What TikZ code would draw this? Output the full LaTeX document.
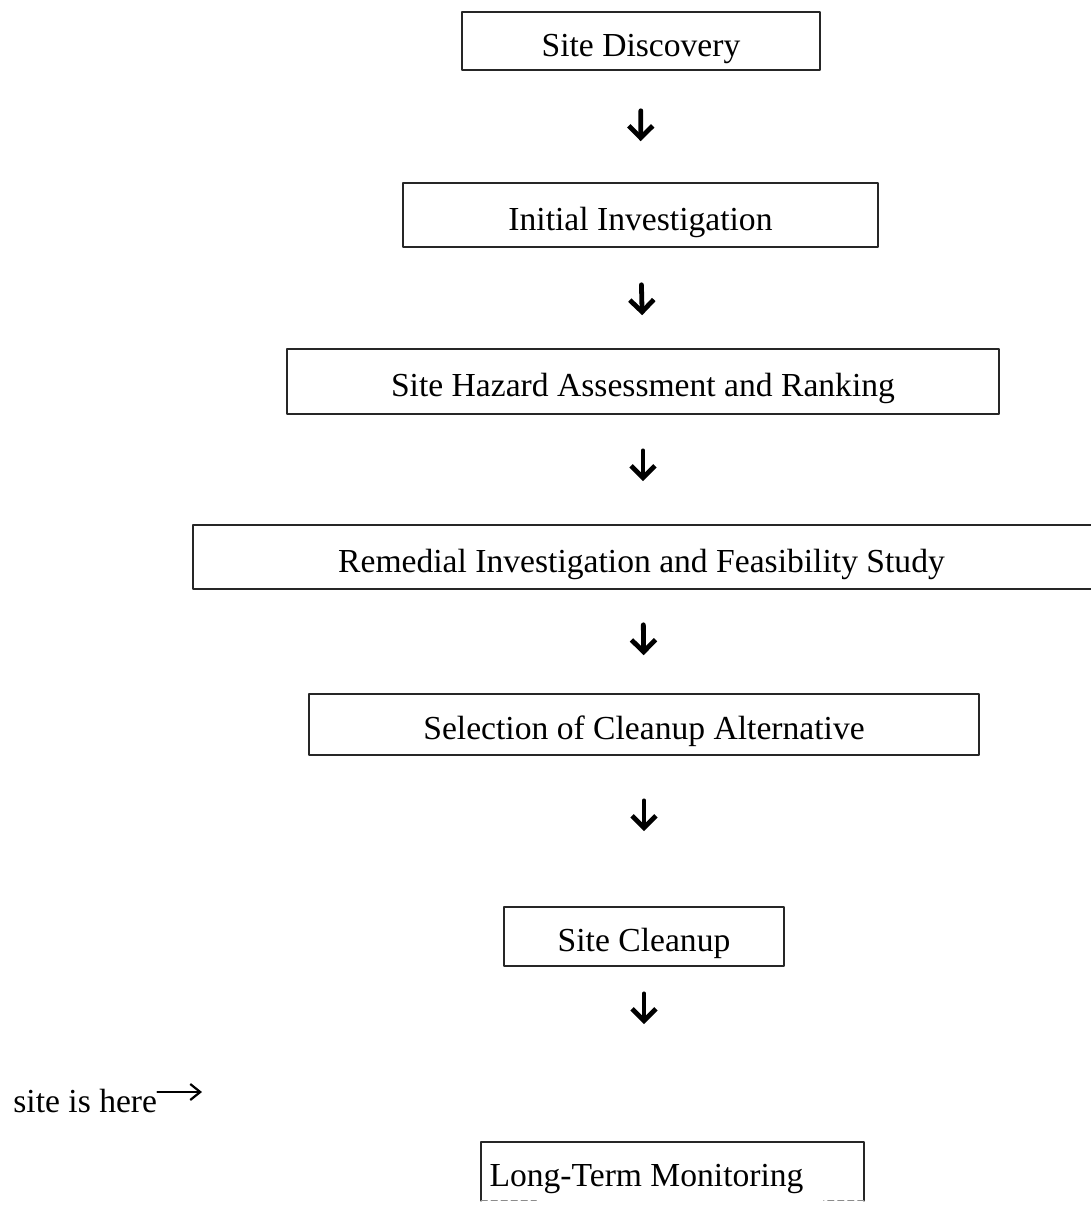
\documentclass[tikz,border=0pt]{standalone}
\usepackage{fontspec}
\setmainfont{Liberation Serif}
\usetikzlibrary{arrows.meta}
\tikzset{
    every picture/.style={line cap=round,line join=round},
    stagebox/.style={draw=black!85,line width=0.8pt,inner sep=0pt,
      text height=15pt,text depth=0pt,
      font=\fontsize{16.8}{20}\selectfont,align=center},
    openbox/.style={stagebox,draw=none},
    stagearrow/.style={-{Straight Barb[length=6pt,width=12pt]},draw=black,
      line width=2.4pt},
    notearrow/.style={-{Straight Barb[length=5pt,width=8pt]},draw=black,
      line width=1.1pt}
}
\begin{document}
\begin{tikzpicture}[x=0.5pt,y=-0.5pt]
  \useasboundingbox (0,0) rectangle (1091,1205);
  \clip (0,0) rectangle (1091,1205);
  % stages, top to bottom
  \node[stagebox,minimum width=179pt,minimum height=29pt] (discovery) at (641,41) {Site Discovery};
  \node[stagebox,minimum width=237.5pt,minimum height=32pt] (initial) at (640.5,215) {Initial Investigation};
  \node[stagebox,minimum width=356pt,minimum height=32.5pt] (hazard) at (643,381.5) {Site Hazard Assessment and Ranking};
  \node[stagebox,minimum width=458pt,minimum height=32pt] (rifs) at (651,557) {\hspace*{-9.5pt}Remedial Investigation and Feasibility Study};
  \node[stagebox,minimum width=335pt,minimum height=30.5pt] (select) at (644,724.5) {Selection of Cleanup Alternative};
  \node[stagebox,minimum width=140pt,minimum height=29.5pt] (cleanup) at (644,936.5) {Site Cleanup};
  \node[openbox,minimum width=190.5pt,minimum height=28.5pt] (monitor) at (672.5,1171.5) {\hspace*{-26pt}Long-Term Monitoring};
  \draw[draw=black!85,line width=0.8pt] (monitor.south west) -- (monitor.north west)
    -- (monitor.north east) -- (monitor.south east);
  \draw[draw=black!45,line width=0.6pt,densely dashed] (monitor.south west) -- ++(55,0);
  \draw[draw=black!45,line width=0.6pt,densely dashed] (monitor.south east) -- ++(-40,0);

  \draw[stagearrow,shorten <=20pt,shorten >=20.5pt] (discovery.south) -- (initial.north);
  \draw[stagearrow,shorten <=18.5pt,shorten >=16.5pt] (initial.south) -- (hazard.north);
  \draw[stagearrow,shorten <=18pt,shorten >=21.5pt] (hazard.south) -- (hazard.south |- rifs.north);
  \draw[stagearrow,shorten <=17.5pt,shorten >=19pt] (hazard.south |- rifs.south) -- (select.north);
  \draw[stagearrow,shorten <=22.5pt,shorten >=37.5pt] (select.south) -- (cleanup.north);
  \draw[stagearrow,shorten <=13.5pt,shorten >=59pt] (cleanup.south) -- (cleanup.south |- monitor.north);

  % pointer at the left
  \node[anchor=base west,font=\fontsize{16.8}{20}\selectfont,inner sep=0pt] (here) at (13,1112) {site is here};
  \coordinate (herept) at (202,1092);
  \draw[notearrow] ([yshift=10pt]here.base east) -- (herept);
\end{tikzpicture}
\end{document}
